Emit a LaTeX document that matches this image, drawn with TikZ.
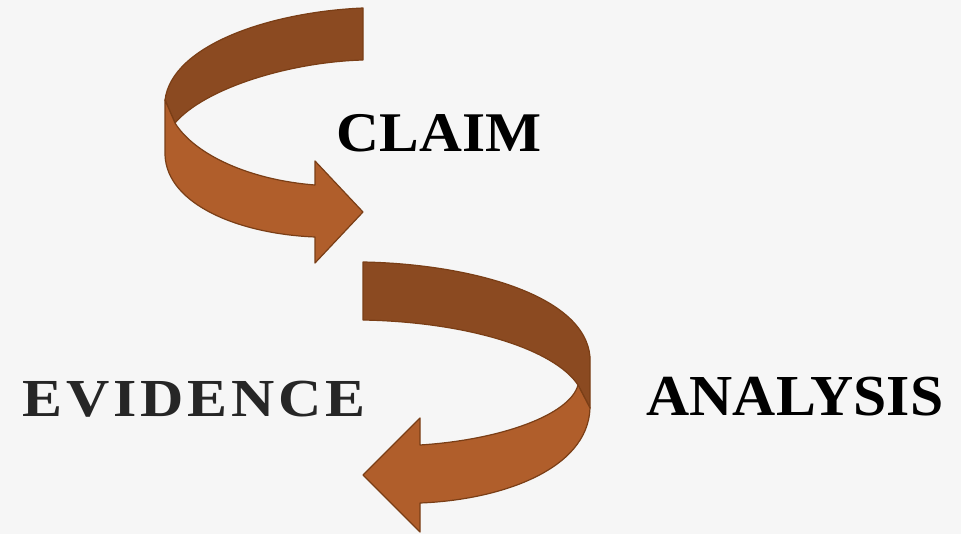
\documentclass[tikz,border=0pt]{standalone}
\usepackage{fontspec}
\setmainfont{Liberation Serif}
\usetikzlibrary{positioning}
\definecolor{bggray}{RGB}{246,246,246}
\definecolor{backbrown}{RGB}{139,74,33}
\definecolor{frontbrown}{RGB}{176,94,43}
\definecolor{edgebrown}{RGB}{122,62,22}
\tikzstyle{word} = [inner sep=0pt, anchor=base]
\tikzstyle{back} = [fill=backbrown, draw=edgebrown, line width=1.2pt, line join=round]
\tikzstyle{front} = [fill=frontbrown, draw=edgebrown, line width=1.2pt, line join=round]

\begin{document}
\begin{tikzpicture}[x=1pt, y=-1pt]
        \fill[bggray] (0,0) rectangle (961,534);

        % upper arrow, back then front
        \draw[back] (363,8) .. controls (270,12) and (172,45) .. (165,100) -- (175,123)
            .. controls (205,88) and (290,62) .. (363,60) -- cycle;
        \draw[front] (165,100) -- (165,155) .. controls (167,205) and (240,234) .. (315,237)
            -- (315,263) -- (363,212) -- (315,161) -- (315,185)
            .. controls (250,180) and (195,155) .. (175,123) -- cycle;

        % lower arrow
        \draw[back] (363,262) .. controls (470,264) and (585,295) .. (590,357) -- (590,408) -- (578,385)
            .. controls (555,350) and (470,322) .. (363,320) -- cycle;
        \draw[front] (590,408) .. controls (588,470) and (500,500) .. (420,503)
            -- (420,532) -- (363,475) -- (420,418) -- (420,445)
            .. controls (500,440) and (570,415) .. (578,385) -- cycle;

        \node [word, font=\bfseries\fontsize{56}{60}\selectfont\addfontfeatures{FakeStretch=1.06}] (claim) at (439,152) {CLAIM};
        \node [word, text={rgb,255:red,38;green,38;blue,38}, font=\bfseries\fontsize{53.5}{58}\selectfont\addfontfeatures{FakeStretch=1.12,LetterSpace=7}] (evidence) at (194,417) {EVIDENCE};
        \node [word, font=\bfseries\fontsize{58}{62}\selectfont\addfontfeatures{FakeStretch=1.03}] (analysis) at (795,415) {ANALYSIS};
    \end{tikzpicture}
\end{document}
